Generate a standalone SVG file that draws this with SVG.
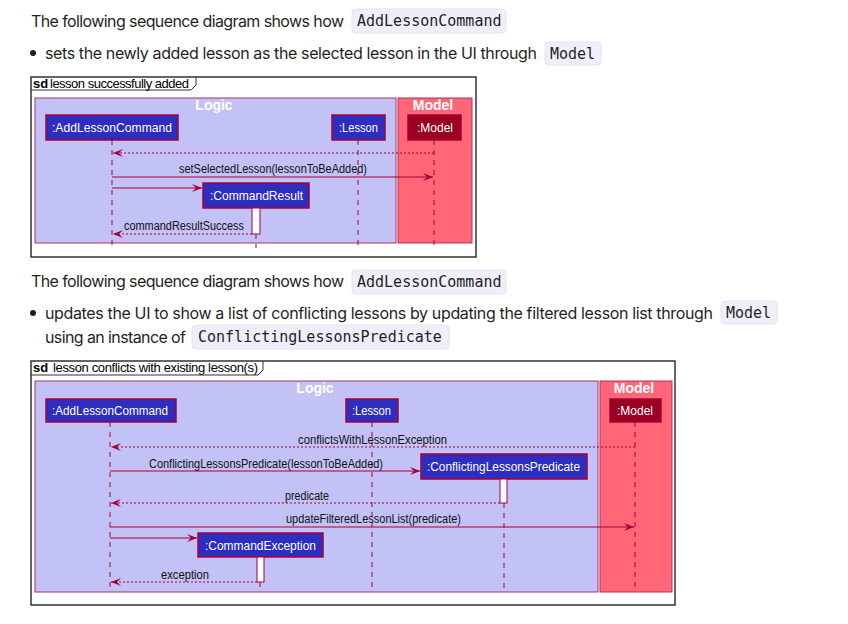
<svg xmlns="http://www.w3.org/2000/svg" width="848" height="624" viewBox="0 0 848 624">
<style>
.p{font-family:Inter,"Liberation Sans",sans-serif;font-size:16px;fill:#1f1f1f}
.chip{fill:#EFEFFB;stroke:#E2E2F3;stroke-width:1}
.code{font-family:"DejaVu Sans Mono","Liberation Mono",monospace;font-size:15px;fill:#1f1f1f}
.frame{fill:#fff;stroke:#333;stroke-width:1.5}
.tab{fill:none;stroke:#333;stroke-width:1}
.sd{font-family:"Liberation Sans",Arial,sans-serif;font-size:13px;fill:#000}
.logic{fill:#C2C2F6;stroke:#B0305E;stroke-width:1}
.model{fill:#FF6677;stroke:#B0305E;stroke-width:1}
.title{font-family:"Liberation Sans",Arial,sans-serif;font-size:14px;font-weight:bold;fill:#fff;text-anchor:middle}
.part{fill:#2D2DC0;stroke:#A80036;stroke-width:1.5}
.partm{fill:#990022;stroke:#A80036;stroke-width:1.5}
.pt{font-family:"Liberation Sans",Arial,sans-serif;font-size:13.5px;fill:#fff}
.life{stroke:#A80036;stroke-width:1;stroke-dasharray:5,5;fill:none}
.act{fill:#fff;stroke:#A80036;stroke-width:1}
.msg{stroke:#A80036;stroke-width:1;fill:none}
.ret{stroke:#A80036;stroke-width:1;stroke-dasharray:2,2;fill:none}
.lbl{font-family:"Liberation Sans",Arial,sans-serif;font-size:12px;fill:#111}
</style>
<defs>
<marker id="ah" viewBox="0 0 10 8" refX="10" refY="4" markerWidth="10" markerHeight="8" orient="auto" markerUnits="userSpaceOnUse">
<path d="M0,0 L10,4 L0,8 L4,4 Z" fill="#A80036"/>
</marker>
</defs>
<rect width="848" height="624" fill="#fff"/>

<g id="prose1">
<text class="p" x="31" y="27" textLength="313" lengthAdjust="spacing">The following sequence diagram shows how</text>
<rect class="chip" x="352" y="9" width="154" height="24" rx="4"/>
<text class="code" x="357" y="26">AddLessonCommand</text>
<circle cx="33" cy="53" r="3" fill="#1f1f1f"/>
<text class="p" x="45" y="59" textLength="492" lengthAdjust="spacing">sets the newly added lesson as the selected lesson in the UI through</text>
<rect class="chip" x="545" y="42" width="56" height="23" rx="4"/>
<text class="code" x="550" y="59">Model</text>
</g>

<g id="diagram1">
<rect class="frame" x="31" y="77" width="445" height="180"/>
<path class="tab" d="M31,90 H191 L196,85 V77"/>
<text class="sd" x="33" y="88"><tspan font-weight="bold">sd</tspan><tspan x="50" textLength="139" lengthAdjust="spacing">lesson successfully added</tspan></text>
<g id="d1-logic"><rect class="logic" x="35" y="98" width="361" height="145"/><text class="title" x="214" y="110">Logic</text></g>
<g id="d1-modelbox"><rect class="model" x="398" y="98" width="74" height="145"/><text class="title" x="433" y="110">Model</text></g>
<g id="d1-lifelines">
<line class="life" x1="112" y1="140" x2="112" y2="248"/>
<line class="life" x1="358" y1="140" x2="358" y2="248"/>
<line class="life" x1="434" y1="140" x2="434" y2="248"/>
<line class="life" x1="256" y1="234" x2="256" y2="248"/>
</g>
<g id="d1-addlessoncommand"><rect class="part" x="46" y="115" width="132" height="25"/><text class="pt" x="52" y="132" textLength="120" lengthAdjust="spacingAndGlyphs">:AddLessonCommand</text></g>
<g id="d1-lesson"><rect class="part" x="332" y="115" width="53" height="25"/><text class="pt" x="339" y="132" textLength="39" lengthAdjust="spacingAndGlyphs">:Lesson</text></g>
<g id="d1-model"><rect class="partm" x="408" y="115" width="53" height="25"/><text class="pt" x="417" y="132" textLength="36" lengthAdjust="spacingAndGlyphs">:Model</text></g>
<g id="d1-commandresult"><rect class="part" x="203" y="183" width="106" height="25"/><rect class="act" x="252" y="208" width="8" height="26"/><text class="pt" x="210" y="200" textLength="93" lengthAdjust="spacingAndGlyphs">:CommandResult</text></g>
<g id="d1-connectors">
<line class="ret" x1="434" y1="153" x2="113" y2="153" marker-end="url(#ah)"/>
<line class="msg" x1="112" y1="177" x2="433" y2="177" marker-end="url(#ah)"/>
<text class="lbl" x="179" y="173" textLength="188" lengthAdjust="spacingAndGlyphs">setSelectedLesson(lessonToBeAdded)</text>
<line class="msg" x1="112" y1="188" x2="202" y2="188" marker-end="url(#ah)"/>
<line class="ret" x1="252" y1="234" x2="113" y2="234" marker-end="url(#ah)"/>
<text class="lbl" x="124" y="230" textLength="120" lengthAdjust="spacingAndGlyphs">commandResultSuccess</text>
</g>
</g>

<g id="prose2">
<text class="p" x="31" y="287" textLength="313" lengthAdjust="spacing">The following sequence diagram shows how</text>
<rect class="chip" x="352" y="270" width="154" height="24" rx="4"/>
<text class="code" x="357" y="287">AddLessonCommand</text>
<circle cx="33" cy="313" r="3" fill="#1f1f1f"/>
<text class="p" x="45" y="319" textLength="668" lengthAdjust="spacing">updates the UI to show a list of conflicting lessons by updating the filtered lesson list through</text>
<rect class="chip" x="721" y="301" width="56" height="23" rx="4"/>
<text class="code" x="726" y="318">Model</text>
<text class="p" x="45" y="343" textLength="141" lengthAdjust="spacing">using an instance of</text>
<rect class="chip" x="192" y="325" width="257" height="24" rx="4"/>
<text class="code" x="198" y="342">ConflictingLessonsPredicate</text>
</g>

<g id="diagram2">
<rect class="frame" x="31" y="361" width="644" height="244"/>
<path class="tab" d="M31,375 H258 L263,370 V361"/>
<text class="sd" x="33" y="372"><tspan font-weight="bold">sd</tspan><tspan x="53" textLength="205" lengthAdjust="spacing">lesson conflicts with existing lesson(s)</tspan></text>
<g id="d2-logic"><rect class="logic" x="35" y="381" width="563" height="211"/><text class="title" x="315" y="393">Logic</text></g>
<g id="d2-modelbox"><rect class="model" x="600" y="381" width="72" height="211"/><text class="title" x="634" y="393">Model</text></g>
<g id="d2-lifelines">
<line class="life" x1="110" y1="422" x2="110" y2="592"/>
<line class="life" x1="372" y1="422" x2="372" y2="592"/>
<line class="life" x1="635" y1="422" x2="635" y2="592"/>
<line class="life" x1="504" y1="503" x2="504" y2="592"/>
<line class="life" x1="260" y1="582" x2="260" y2="592"/>
</g>
<g id="d2-addlessoncommand"><rect class="part" x="46" y="399" width="130" height="23"/><text class="pt" x="52" y="415" textLength="116" lengthAdjust="spacingAndGlyphs">:AddLessonCommand</text></g>
<g id="d2-lesson"><rect class="part" x="346" y="399" width="52" height="23"/><text class="pt" x="352" y="415" textLength="39" lengthAdjust="spacingAndGlyphs">:Lesson</text></g>
<g id="d2-model"><rect class="partm" x="610" y="399" width="51" height="23"/><text class="pt" x="617" y="415" textLength="36" lengthAdjust="spacingAndGlyphs">:Model</text></g>
<g id="d2-predicate"><rect class="part" x="421" y="454" width="166" height="25"/><rect class="act" x="500" y="479" width="7" height="24"/><text class="pt" x="427" y="471" textLength="153" lengthAdjust="spacingAndGlyphs">:ConflictingLessonsPredicate</text></g>
<g id="d2-commandexception"><rect class="part" x="198" y="533" width="125" height="24"/><rect class="act" x="257" y="557" width="7" height="25"/><text class="pt" x="205" y="550" textLength="111" lengthAdjust="spacingAndGlyphs">:CommandException</text></g>
<g id="d2-connectors">
<line class="ret" x1="635" y1="447" x2="111" y2="447" marker-end="url(#ah)"/>
<text class="lbl" x="298" y="444" textLength="149" lengthAdjust="spacingAndGlyphs">conflictsWithLessonException</text>
<line class="msg" x1="110" y1="471" x2="420" y2="471" marker-end="url(#ah)"/>
<text class="lbl" x="149" y="468" textLength="234" lengthAdjust="spacingAndGlyphs">ConflictingLessonsPredicate(lessonToBeAdded)</text>
<line class="ret" x1="500" y1="503" x2="111" y2="503" marker-end="url(#ah)"/>
<text class="lbl" x="285" y="500" textLength="44" lengthAdjust="spacingAndGlyphs">predicate</text>
<line class="msg" x1="110" y1="527" x2="634" y2="527" marker-end="url(#ah)"/>
<text class="lbl" x="286" y="523" textLength="175" lengthAdjust="spacingAndGlyphs">updateFilteredLessonList(predicate)</text>
<line class="msg" x1="110" y1="538" x2="197" y2="538" marker-end="url(#ah)"/>
<line class="ret" x1="257" y1="582" x2="111" y2="582" marker-end="url(#ah)"/>
<text class="lbl" x="161" y="579" textLength="48" lengthAdjust="spacingAndGlyphs">exception</text>
</g>
</g>
</svg>
